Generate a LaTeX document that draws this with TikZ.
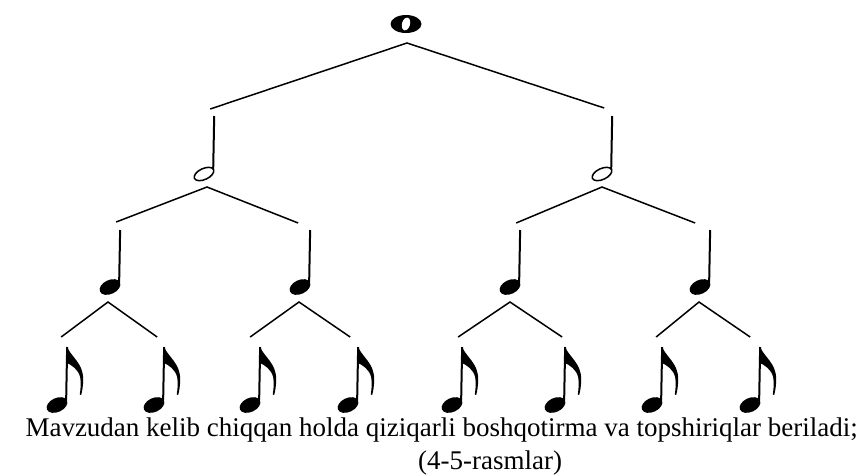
\documentclass[tikz,border=0pt]{standalone}
\usepackage{fontspec}
\setmainfont{Liberation Serif}
\usetikzlibrary{shapes.geometric}

\tikzset{eflag/.pic={
  \fill (0,0) .. controls (4,10) and (16,16) .. (16,32) .. controls (16,40) and (15,44) .. (14,48)
    -- (12.6,47.5) .. controls (13.5,42) and (14,36) .. (13,30) .. controls (11,22) and (4,18) .. (0,16) -- cycle;
}}

\begin{document}
\begin{tikzpicture}[x=1pt, y=-1pt,
    whole/.style={ellipse, fill=black, minimum width=31pt, minimum height=18pt, inner sep=0pt},
    hole/.style={ellipse, fill=white, minimum width=8pt, minimum height=13pt, inner sep=0pt, rotate=-15},
    half/.style={ellipse, draw, line width=1.5pt, fill=white, minimum width=21pt, minimum height=11pt, inner sep=0pt, rotate=25},
    filled/.style={ellipse, fill=black, minimum width=22pt, minimum height=14pt, inner sep=0pt, rotate=25},
    stem/.style={line width=2pt},
    branch/.style={line width=1.5pt},
    caption/.style={font=\fontsize{27}{32}\selectfont, inner sep=0pt}]
				\useasboundingbox (0,0) rectangle (862,475);

				\node (w) [whole] at (406,24) {};
				\node (w-hole) [hole] at (w) {};

				\node (hL) [half] at (204,174) {};
				\node (hR) [half] at (602,174) {};
				\draw [stem] ([xshift=-1pt]hL.east) -- (hL.east |- 0,116) coordinate (hL-top);
				\draw [stem] ([xshift=-1pt]hR.east) -- (hR.east |- 0,116) coordinate (hR-top);

				\node (q1) [filled] at (110,287) {};
				\node (q2) [filled] at (300,287) {};
				\node (q3) [filled] at (510,287) {};
				\node (q4) [filled] at (700,287) {};
				\draw [stem] ([xshift=-1pt]q1.east) -- (q1.east |- 0,230) coordinate (q1-top);
				\draw [stem] ([xshift=-1pt]q2.east) -- (q2.east |- 0,230) coordinate (q2-top);
				\draw [stem] ([xshift=-1pt]q3.east) -- (q3.east |- 0,230) coordinate (q3-top);
				\draw [stem] ([xshift=-1pt]q4.east) -- (q4.east |- 0,230) coordinate (q4-top);

				\node (e1) [filled] at (57,405) {};
				\node (e2) [filled] at (154,405) {};
				\node (e3) [filled] at (250,405) {};
				\node (e4) [filled] at (348,405) {};
				\node (e5) [filled] at (452,405) {};
				\node (e6) [filled] at (555,405) {};
				\node (e7) [filled] at (652,405) {};
				\node (e8) [filled] at (750,405) {};
				\draw [stem] ([xshift=-1pt]e1.east) -- (e1.east |- 0,347) coordinate (e1-top) pic {eflag};
				\draw [stem] ([xshift=-1pt]e2.east) -- (e2.east |- 0,347) coordinate (e2-top) pic {eflag};
				\draw [stem] ([xshift=-1pt]e3.east) -- (e3.east |- 0,347) coordinate (e3-top) pic {eflag};
				\draw [stem] ([xshift=-1pt]e4.east) -- (e4.east |- 0,347) coordinate (e4-top) pic {eflag};
				\draw [stem] ([xshift=-1pt]e5.east) -- (e5.east |- 0,347) coordinate (e5-top) pic {eflag};
				\draw [stem] ([xshift=-1pt]e6.east) -- (e6.east |- 0,347) coordinate (e6-top) pic {eflag};
				\draw [stem] ([xshift=-1pt]e7.east) -- (e7.east |- 0,347) coordinate (e7-top) pic {eflag};
				\draw [stem] ([xshift=-1pt]e8.east) -- (e8.east |- 0,347) coordinate (e8-top) pic {eflag};

				\draw [branch] ([shift={(-4,-7)}]hL-top) -- ([shift={(1,19)}]w.center) -- ([shift={(-8,-8)}]hR-top);
				\draw [branch] ([shift={(-4,-8)}]q1-top) -- ([shift={(3,13)}]hL.center) -- ([shift={(-12,-7)}]q2-top);
				\draw [branch] ([shift={(-4,-7)}]q3-top) -- ([shift={(0,13)}]hR.center) -- ([shift={(-15,-7)}]q4-top);
				\draw [branch] ([shift={(-6,-10)}]e1-top) -- ([shift={(-2,15)}]q1.center) -- ([shift={(-7,-10)}]e2-top);
				\draw [branch] ([shift={(-10,-10)}]e3-top) -- ([shift={(-1,15)}]q2.center) -- ([shift={(-8,-10)}]e4-top);
				\draw [branch] ([shift={(-4,-10)}]e5-top) -- ([shift={(0,15)}]q3.center) -- ([shift={(-3,-10)}]e6-top);
				\draw [branch] ([shift={(-6,-10)}]e7-top) -- ([shift={(-1,15)}]q4.center) -- ([shift={(-10,-10)}]e8-top);

				\node (line1) [caption, anchor=base east] at (858,436) {Mavzudan kelib chiqqan holda qiziqarli boshqotirma va topshiriqlar beriladi;};
				\node (line2) [caption, anchor=base west] at (418,469) {(4-5-rasmlar)};
			\end{tikzpicture}
\end{document}
